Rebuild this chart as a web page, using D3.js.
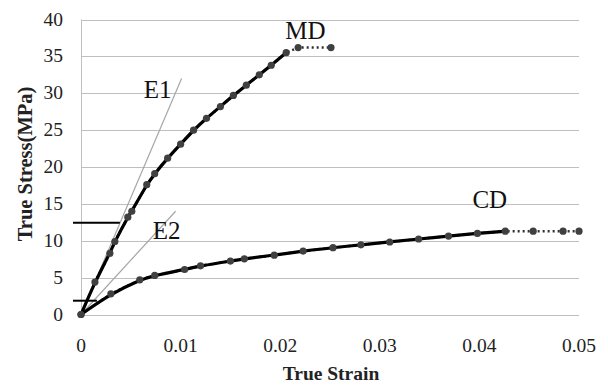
<!DOCTYPE html>
<html><head><meta charset="utf-8">
<script src="https://cdn.jsdelivr.net/npm/d3@7"></script>
<style>body{margin:0;background:#fff}svg{display:block}</style>
</head><body><svg id="c" width="608" height="385"></svg>
<script>
const xTicks = [0, 0.01, 0.02, 0.03, 0.04, 0.05];
const yTicks = [0, 5, 10, 15, 20, 25, 30, 35, 40];
// MD measured points (strain, stress)
const mdStrain = [0, 0.0014, 0.0029, 0.0034, 0.0047, 0.0051, 0.0066, 0.0074, 0.0087, 0.0100, 0.0113, 0.0126, 0.0140, 0.0153, 0.0166, 0.0179, 0.0191, 0.0206, 0.0218, 0.0251];
const mdStress = [0, 4.4, 8.3, 9.9, 13.2, 14.0, 17.6, 19.1, 21.2, 23.1, 25.0, 26.6, 28.2, 29.7, 31.1, 32.5, 33.8, 35.5, 36.2, 36.2];
const mdFitCount = 18; // points covered by the solid fitted curve
// CD measured points
const cdStrain = [0, 0.0030, 0.0059, 0.0074, 0.0104, 0.0120, 0.0150, 0.0164, 0.0194, 0.0223, 0.0253, 0.0281, 0.0310, 0.0339, 0.0369, 0.0398, 0.0426, 0.0454, 0.0484, 0.0500];
const cdStress = [0, 2.8, 4.7, 5.3, 6.1, 6.6, 7.25, 7.55, 8.05, 8.6, 9.06, 9.45, 9.83, 10.24, 10.64, 11.0, 11.3, 11.3, 11.3, 11.3];
const cdFitCount = 17;
// modulus lines E1, E2 (end points)
const eNames = ["E1", "E2"];
const eEndStrain = [0.0101, 0.0095];
const eEndStress = [32.0, 14.0];
// horizontal marks (stress level, strain end)
const markStress = [12.45, 1.87];
const markStrain = [0.0039, 0.0016];
// labels
const labelNames = ["MD", "CD", "E1", "E2"];
const labelX = [0.0205, 0.0393, 0.0063, 0.0072];
const labelY = [37.3, 14.5, 29.3, 10.3];

const svg = d3.select("#c");
const x = d3.scaleLinear().domain([0, 0.05]).range([81, 579]);
const y = d3.scaleLinear().domain([0, 40]).range([314.5, 19.5]);
const serif = "'Liberation Serif','Times New Roman',serif";

// gridlines
svg.append("g").selectAll("line").data(yTicks).join("line")
  .attr("x1", x(0)).attr("x2", x(0.05))
  .attr("y1", d => Math.round(y(d)) + 0.5).attr("y2", d => Math.round(y(d)) + 0.5)
  .attr("stroke", "#bfbfbf").attr("stroke-width", 1);
svg.append("line").attr("x1", x(0) + 0.5).attr("x2", x(0) + 0.5)
  .attr("y1", y(40)).attr("y2", y(0)).attr("stroke", "#bfbfbf");

// y tick labels
svg.append("g").selectAll("text").data(yTicks).join("text")
  .attr("x", 63).attr("y", d => y(d) + 6)
  .attr("text-anchor", "end").attr("font-family", serif).attr("font-size", 19.5)
  .attr("fill", "#222").text(d => d);
// x tick labels
svg.append("g").selectAll("text").data(xTicks).join("text")
  .attr("x", d => x(d)).attr("y", 352)
  .attr("text-anchor", "middle").attr("font-family", serif).attr("font-size", 19.5)
  .attr("fill", "#222").text(d => d === 0 ? "0" : d3.format(".2f")(d));

// axis titles
svg.append("text").attr("x", 331).attr("y", 380).attr("text-anchor", "middle")
  .attr("font-family", serif).attr("font-weight", "bold").attr("font-size", 19.5)
  .attr("fill", "#222").text("True Strain");
svg.append("text").attr("transform", "translate(32,164) rotate(-90)").attr("text-anchor", "middle")
  .attr("font-family", serif).attr("font-weight", "bold").attr("font-size", 20.5)
  .attr("fill", "#222").text("True Stress(MPa)");

// E lines
svg.append("g").selectAll("line").data(eNames).join("line")
  .attr("x1", x(0)).attr("y1", y(0))
  .attr("x2", (d, i) => x(eEndStrain[i])).attr("y2", (d, i) => y(eEndStress[i]))
  .attr("stroke", "#a6a6a6").attr("stroke-width", 1.2);

// horizontal marks
svg.append("g").selectAll("line").data(markStress).join("line")
  .attr("x1", x(0) - 8).attr("x2", (d, i) => x(markStrain[i]))
  .attr("y1", d => y(d)).attr("y2", d => y(d))
  .attr("stroke", "#000").attr("stroke-width", 2);

function drawSeries(xs, ys, fitN) {
  const pts = xs.map((v, i) => [v, ys[i]]);
  // dotted data line
  svg.append("path").datum(pts)
    .attr("d", d3.line().x(d => x(d[0])).y(d => y(d[1])))
    .attr("fill", "none").attr("stroke", "#303030").attr("stroke-width", 2.5)
    .attr("stroke-dasharray", "2,3");
  // solid fitted curve
  svg.append("path").datum(pts.slice(0, fitN))
    .attr("d", d3.line().curve(d3.curveBasis).x(d => x(d[0])).y(d => y(d[1])))
    .attr("fill", "none").attr("stroke", "#000").attr("stroke-width", 3.2);
  svg.append("g").selectAll("circle").data(pts).join("circle")
    .attr("cx", d => x(d[0])).attr("cy", d => y(d[1])).attr("r", 3.6)
    .attr("fill", "#404040");
}
drawSeries(mdStrain, mdStress, mdFitCount);
drawSeries(cdStrain, cdStress, cdFitCount);

// labels
svg.append("g").selectAll("text").data(labelNames).join("text")
  .attr("x", (d, i) => x(labelX[i])).attr("y", (d, i) => y(labelY[i]))
  .attr("font-family", serif).attr("font-size", 25).attr("fill", "#111")
  .text(d => d);
</script></body></html>
